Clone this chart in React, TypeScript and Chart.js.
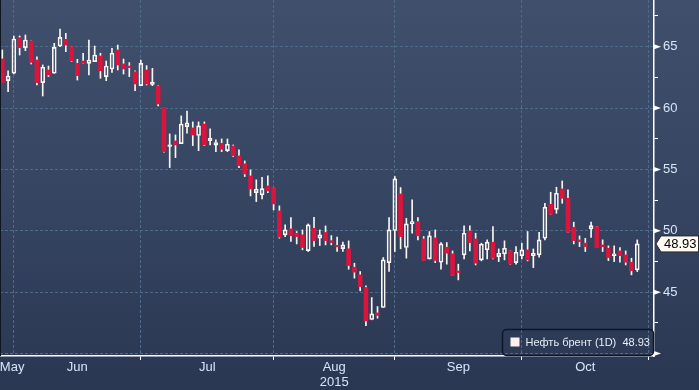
import React, { useEffect, useRef } from "react";
import { Chart, registerables } from "chart.js";

Chart.register(...registerables);

// ---- data ----
const seriesName = "Нефть брент (1D)";
const monthNames = ["May", "Jun", "Jul", "Aug", "Sep", "Oct"];
// index of the first trading day of each month (last = first day of Nov)
const monthStarts = [0, 2, 24, 47, 68, 90, 112];
const yearLabel = "2015";
const yearUnderMonth = "Aug";
const yMajorTicks = [40, 45, 50, 55, 60, 65];
const yMinorTicks = [42.5, 47.5, 52.5, 57.5, 62.5, 67.5];

const open = [
  64.0, 62.23, 62.83, 65.73, 64.92, 65.46, 63.91, 62.07, 63.1, 62.83,
  65.05, 65.6, 65.0, 63.64, 63.83, 63.64, 63.78, 64.24, 62.56, 63.18,
  64.73, 63.59, 63.42, 62.96, 61.82, 63.1, 61.93, 61.8, 60.06, 56.88,
  57.32, 57.1, 58.49, 58.38, 57.76, 58.7, 57.35, 56.97, 57.13, 56.53,
  56.91, 56.1, 55.45, 54.47, 53.11, 52.92, 53.66, 53.52, 51.62, 49.67,
  50.15, 49.8, 49.67, 48.39, 50.21, 49.4, 49.86, 49.2, 48.77, 48.55,
  48.53, 47.03, 46.41, 45.38, 42.77, 43.31, 43.75, 47.41, 50.02, 53.0,
  48.64, 50.56, 50.75, 49.34, 47.71, 49.42, 47.44, 48.66, 48.12, 46.65,
  48.04, 49.99, 49.34, 47.63, 48.44, 49.07, 47.9, 48.12, 48.36, 47.41,
  47.98, 48.44, 47.98, 48.04, 49.39, 52.16, 51.75, 53.41, 52.65, 50.29,
  49.26, 48.99, 50.15, 50.34, 48.85, 48.58, 47.98, 48.36, 48.04, 47.44,
  46.82,
];
const high = [
  64.73, 63.02, 65.87, 65.87, 65.95, 65.46, 64.18, 63.51, 63.42, 65.27,
  66.44, 66.08, 65.0, 63.97, 64.46, 65.54, 65.05, 64.46, 63.83, 64.86,
  65.13, 63.99, 63.7, 63.02, 63.91, 63.45, 63.23, 61.82, 60.06, 57.89,
  57.81, 59.36, 59.76, 58.87, 58.87, 58.87, 58.3, 57.4, 57.48, 57.48,
  56.99, 56.59, 55.69, 54.96, 54.15, 54.36, 54.47, 53.52, 52.03, 50.48,
  51.08, 49.94, 50.07, 50.56, 51.1, 50.07, 50.4, 49.61, 49.48, 49.07,
  49.18, 47.36, 46.68, 45.51, 44.56, 43.83, 47.82, 51.08, 54.42, 53.52,
  51.02, 52.52, 51.08, 49.53, 49.94, 50.07, 49.04, 49.04, 48.36, 47.28,
  50.4, 50.4, 49.8, 48.99, 49.26, 50.34, 48.52, 49.18, 48.36, 48.71,
  48.99, 49.94, 48.52, 49.88, 52.24, 53.14, 53.55, 54.06, 53.33, 50.7,
  49.58, 49.39, 50.7, 50.34, 49.26, 48.77, 48.77, 48.63, 48.36, 47.76,
  49.26,
];
const low = [
  62.07, 61.33, 62.77, 64.32, 64.67, 63.59, 61.88, 60.98, 62.56, 62.83,
  65.0, 64.59, 63.78, 62.28, 63.64, 62.69, 63.78, 62.42, 62.23, 62.91,
  63.1, 62.77, 62.56, 61.42, 61.82, 61.88, 61.82, 60.17, 56.4, 55.15,
  55.96, 57.1, 57.95, 56.94, 56.53, 56.94, 56.99, 56.45, 56.45, 56.45,
  56.05, 55.15, 54.42, 52.84, 52.38, 52.6, 53.11, 51.7, 49.4, 49.53,
  49.13, 48.93, 48.45, 48.31, 48.72, 48.8, 48.85, 48.85, 48.31, 48.31,
  46.87, 46.14, 45.11, 42.28, 42.75, 42.88, 43.75, 46.68, 48.31, 48.53,
  47.77, 49.8, 49.26, 47.58, 47.69, 47.41, 46.87, 47.28, 46.36, 46.0,
  47.71, 48.36, 47.22, 47.55, 47.71, 47.71, 47.49, 47.63, 47.28, 47.28,
  47.71, 47.55, 47.0, 47.85, 49.26, 51.35, 51.43, 52.24, 49.88, 48.93,
  48.71, 48.31, 49.45, 48.63, 48.31, 47.57, 47.49, 47.44, 47.22, 46.41,
  46.68,
];
const close = [
  62.07, 62.61, 65.62, 64.92, 65.54, 63.72, 62.07, 63.32, 62.7, 64.94,
  65.76, 65.13, 63.83, 62.64, 63.64, 63.91, 64.32, 63.04, 63.42, 64.46,
  63.51, 63.18, 63.29, 61.96, 63.64, 61.96, 62.12, 60.33, 56.45, 56.95,
  57.0, 58.7, 58.79, 57.81, 58.54, 56.99, 57.54, 57.19, 56.64, 57.05,
  56.13, 55.31, 54.63, 53.41, 53.38, 53.44, 53.25, 52.19, 49.48, 50.07,
  49.59, 49.53, 48.64, 50.48, 49.2, 49.67, 49.2, 49.04, 48.69, 48.85,
  47.17, 46.63, 45.46, 42.66, 43.23, 43.1, 47.63, 50.07, 54.23, 49.53,
  50.56, 50.75, 49.59, 47.58, 49.59, 47.58, 48.93, 48.17, 46.36, 46.6,
  49.8, 49.04, 47.36, 48.9, 49.07, 47.76, 48.17, 48.58, 47.3, 48.25,
  48.44, 47.63, 48.17, 49.26, 51.92, 51.35, 53.06, 52.65, 49.88, 49.2,
  49.12, 48.71, 50.42, 48.63, 48.71, 47.82, 48.12, 47.98, 47.44, 46.76,
  48.93,
];

// ---- view range (data units) ----
const X_MIN = -0.4;
const X_MAX = 112.9;
const Y_MIN = 39.8;
const Y_MAX = 68.8;

// ---- styles ----
const RED = "#dc143c";
const WHITE = "#fbf6f2";
const GRID = "#4e6b8c";
const LABEL = "#d6e6f7";
const FONT = "'Liberation Sans', Arial, sans-serif";

export default function App() {
  const ref = useRef<HTMLCanvasElement | null>(null);

  useEffect(() => {
    document.body.style.margin = "0";
    const canvas = ref.current;
    if (!canvas) return;

    const n = close.length;
    const up = close.map((c, i) => c >= open[i]);

    const boundaries = monthStarts.slice(1);
    const labelPos = monthNames.map((_, k) =>
      Math.max((monthStarts[k] + monthStarts[k + 1]) / 2, X_MIN + 2.1)
    );
    const boundarySet = new Set(boundaries);

    const bodies = open.map((o, i) => ({ x: i, y: [o, close[i]] }));
    const upperWicks = open.map((o, i) => ({ x: i, y: [Math.max(o, close[i]), high[i]] }));
    const lowerWicks = open.map((o, i) => ({ x: i, y: [low[i], Math.min(o, close[i])] }));

    const bgPlugin = {
      id: "bg",
      beforeDraw(chart: any) {
        const { ctx, width, height } = chart;
        const g = ctx.createLinearGradient(0, 0, 0, height);
        g.addColorStop(0, "#404f6b");
        g.addColorStop(0.5, "#364562");
        g.addColorStop(1, "#2a3752");
        ctx.save();
        ctx.fillStyle = g;
        ctx.fillRect(0, 0, width, height);
        ctx.restore();
      },
    };

    const overlayPlugin = {
      id: "overlay",
      afterDraw(chart: any) {
        const { ctx, chartArea } = chart;
        const ys = chart.scales.y;
        const right = chartArea.right;
        ctx.save();
        // left dark edge
        ctx.fillStyle = "#10151f";
        ctx.fillRect(chartArea.left, chartArea.top, 1, chartArea.bottom - chartArea.top);
        // major tick triangles
        ctx.fillStyle = "#ffffff";
        yMajorTicks.forEach((v) => {
          const y = ys.getPixelForValue(v);
          ctx.beginPath();
          ctx.moveTo(right, y - 2.5);
          ctx.lineTo(right, y + 2.5);
          ctx.lineTo(right + 7, y);
          ctx.closePath();
          ctx.fill();
        });
        // last price label
        const last = close[n - 1];
        const py = ys.getPixelForValue(last);
        const x0 = right + 2;
        const x1 = x0 + 5;
        const x2 = chart.width - 0.5;
        ctx.beginPath();
        ctx.moveTo(x0, py);
        ctx.lineTo(x1, py - 8);
        ctx.lineTo(x2, py - 8);
        ctx.lineTo(x2, py + 8);
        ctx.lineTo(x1, py + 8);
        ctx.closePath();
        ctx.fillStyle = "#fffaf2";
        ctx.fill();
        ctx.strokeStyle = "#2a2a2a";
        ctx.lineWidth = 1;
        ctx.stroke();
        ctx.fillStyle = "#000000";
        ctx.font = `13px ${FONT}`;
        ctx.textBaseline = "middle";
        ctx.textAlign = "left";
        ctx.fillText(last.toFixed(2), x1 + 3, py + 1);

        // legend box
        const lx = 502.5, ly = 329.5, lw = 151, lh = 26;
        ctx.beginPath();
        (ctx as any).roundRect(lx, ly, lw, lh, 4);
        ctx.strokeStyle = "#0e1628";
        ctx.lineWidth = 1.5;
        ctx.stroke();
        ctx.fillStyle = "#fdf0ee";
        ctx.fillRect(lx + 8, ly + 8, 9, 9);
        ctx.fillStyle = "#e6edf5";
        ctx.font = `11px ${FONT}`;
        ctx.textBaseline = "middle";
        ctx.fillText(`${seriesName}  ${last.toFixed(2)}`, lx + 23, ly + lh / 2 + 0.5);
        ctx.restore();
      },
    };

    const chart = new Chart(canvas, {
      type: "bar",
      data: {
        datasets: [
          {
            label: seriesName,
            data: bodies as any,
            backgroundColor: up.map((u) => (u ? "rgba(0,0,0,0)" : RED)),
            borderColor: up.map((u) => (u ? WHITE : RED)),
            borderWidth: up.map((u) => (u ? 1 : 0)) as any,
            borderSkipped: false,
            barThickness: 4,
            minBarLength: 1.5,
            grouped: false,
          } as any,
          {
            label: "upper",
            data: upperWicks as any,
            backgroundColor: WHITE,
            borderWidth: 0,
            barThickness: 1,
            grouped: false,
          } as any,
          {
            label: "lower",
            data: lowerWicks as any,
            backgroundColor: WHITE,
            borderWidth: 0,
            barThickness: 1,
            grouped: false,
          } as any,
        ],
      },
      options: {
        animation: false,
        responsive: false,
        devicePixelRatio: 1,
        events: [],
        layout: { padding: 0 },
        plugins: { legend: { display: false }, tooltip: { enabled: false } },
        scales: {
          x: {
            type: "linear",
            position: "bottom",
            min: X_MIN,
            max: X_MAX,
            offset: false,
            afterBuildTicks: (scale: any) => {
              const t: any[] = [];
              boundaries.forEach((b) => t.push({ value: b }));
              labelPos.forEach((p) => t.push({ value: p }));
              scale.ticks = t;
            },
            afterFit: (scale: any) => {
              scale.height = 34;
              scale.paddingLeft = 0;
              scale.paddingRight = 0;
            },
            grid: {
              offset: false,
              color: (c: any) => (c.tick && boundarySet.has(c.tick.value) ? GRID : "rgba(0,0,0,0)"),
              tickColor: (c: any) =>
                c.tick && boundarySet.has(c.tick.value) && c.tick.value !== boundaries[0]
                  ? "#ffffff"
                  : "rgba(0,0,0,0)",
              tickLength: 4,
              lineWidth: 1,
              tickBorderDash: [],
            },
            border: { display: true, color: "#ffffff", width: 1.5, dash: [3, 2] },
            ticks: {
              autoSkip: false,
              maxRotation: 0,
              padding: 0,
              color: LABEL,
              font: { family: FONT, size: 13, lineHeight: 1.15 },
              callback: (value: any) => {
                const k = labelPos.indexOf(value);
                if (k < 0) return "";
                const name = monthNames[k];
                return name === yearUnderMonth ? [name, yearLabel] : name;
              },
            },
          } as any,
          y: {
            type: "linear",
            position: "right",
            min: Y_MIN,
            max: Y_MAX,
            beginAtZero: false,
            afterBuildTicks: (scale: any) => {
              scale.ticks = [...yMajorTicks, ...yMinorTicks]
                .sort((a, b) => a - b)
                .map((v) => ({ value: v }));
            },
            afterFit: (scale: any) => {
              scale.width = 45;
              scale.paddingTop = 0;
              scale.paddingBottom = 0;
            },
            grid: {
              color: (c: any) =>
                c.tick && yMajorTicks.includes(c.tick.value) ? GRID : "rgba(0,0,0,0)",
              tickColor: "#ffffff",
              tickLength: 4,
              lineWidth: 1,
              tickBorderDash: [],
            },
            border: { display: true, color: "#ffffff", width: 1.5, dash: [3, 2] },
            ticks: {
              padding: 5,
              color: LABEL,
              font: { family: FONT, size: 13 },
              callback: (value: any) =>
                yMajorTicks.includes(value) && value !== yMajorTicks[0] ? String(value) : "",
            },
          } as any,
        },
      },
      plugins: [bgPlugin, overlayPlugin],
    } as any);

    return () => chart.destroy();
  }, []);

  return (
    <div style={{ width: 699, height: 390 }}>
      <canvas ref={ref} width={699} height={390} style={{ display: "block" }} />
    </div>
  );
}
